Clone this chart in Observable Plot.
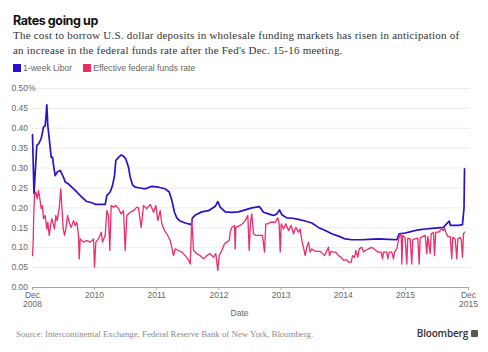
<!DOCTYPE html>
<html>
<head>
<meta charset="utf-8">
<script src="https://cdn.jsdelivr.net/npm/d3@7"></script>
<script src="https://cdn.jsdelivr.net/npm/@observablehq/plot@0.6"></script>
<style>
  body { margin: 0; background: #fff; }
  #wrap { position: relative; width: 488px; height: 352px; overflow: hidden; background: #fff; }
  #title { position: absolute; left: 13px; top: 13px; font: 700 12.5px/15px Inter, "Liberation Sans", sans-serif; letter-spacing: -0.4px; color: #111; white-space: nowrap; }
  #subtitle { position: absolute; left: 13px; top: 28px; width: 475px; font: 11px/15px "Liberation Serif", serif; letter-spacing: 0.22px; color: #333; white-space: nowrap; }
  #legend { position: absolute; left: 13px; top: 63px; font: 8.6px/10px "Liberation Sans", sans-serif; color: #666; white-space: nowrap; }
  #legend .item { display: inline-block; margin-right: 11px; }
  #legend .sw { display: inline-block; width: 8px; height: 8px; vertical-align: -1px; margin-right: 2px; }
  #chart { position: absolute; left: 0; top: 78px; }
  #source { position: absolute; left: 16px; top: 329px; font: 8.8px/10px "Liberation Serif", serif; color: #8a8a8a; white-space: nowrap; }
  #brand { position: absolute; right: 10px; top: 327px; font: 600 10px/12px "Open Sans", "Liberation Sans", sans-serif; color: #333; white-space: nowrap; letter-spacing: -0.2px; }
  #brand .ico { display: inline-block; width: 7px; height: 7px; background: #555; border-radius: 1px; margin-left: 3px; vertical-align: 0px; }
</style>
</head>
<body>
<div id="wrap">
  <div id="title">Rates going up</div>
  <div id="subtitle">The cost to borrow U.S. dollar deposits in wholesale funding markets has risen in anticipation of<br>an increase in the federal funds rate after the Fed's Dec. 15-16 meeting.</div>
  <div id="legend"></div>
  <div id="chart"></div>
  <div id="source">Source: Intercontinental Exchange, Federal Reserve Bank of New York, Bloomberg.</div>
  <div id="brand">Bloomberg<span class="ico"></span></div>
</div>
<script>
// ---- Data (x = decimal year, y = percent) ----
const seriesNames = ["1-week Libor", "Effective federal funds rate"];
const seriesColors = ["#2a0fce", "#ee2b6b"];

const liborYear = [
  2009.003, 2009.027, 2009.047, 2009.072, 2009.100, 2009.143, 2009.180, 2009.207, 2009.220, 2009.233,
  2009.249, 2009.272, 2009.304, 2009.325, 2009.346, 2009.368, 2009.400, 2009.449, 2009.474, 2009.502,
  2009.529, 2009.582, 2009.635, 2009.715, 2009.796, 2009.876, 2009.957, 2010.011, 2010.172, 2010.198,
  2010.252, 2010.289, 2010.322, 2010.342, 2010.386, 2010.429, 2010.466, 2010.503, 2010.547, 2010.574,
  2010.611, 2010.654, 2010.735, 2010.815, 2010.921, 2011.029, 2011.137, 2011.201, 2011.243, 2011.286,
  2011.323, 2011.378, 2011.458, 2011.555, 2011.576, 2011.629, 2011.725, 2011.833, 2011.941, 2011.982,
  2012.021, 2012.101, 2012.207, 2012.315, 2012.423, 2012.529, 2012.653, 2012.717, 2012.797, 2012.878,
  2012.931, 2012.974, 2013.011, 2013.092, 2013.183, 2013.280, 2013.387, 2013.494, 2013.601, 2013.709,
  2013.815, 2013.923, 2014.031, 2014.137, 2014.297, 2014.405, 2014.566, 2014.727, 2014.860, 2014.899,
  2014.995, 2015.101, 2015.209, 2015.317, 2015.477, 2015.611, 2015.703, 2015.723, 2015.852, 2015.916,
  2015.941, 2015.949
];
const liborRate = [
  0.384, 0.236, 0.29, 0.357, 0.361, 0.374, 0.403, 0.407, 0.43, 0.459,
  0.407, 0.374, 0.327, 0.327, 0.302, 0.281, 0.29, 0.294, 0.286, 0.277,
  0.265, 0.26, 0.252, 0.24, 0.227, 0.216, 0.213, 0.209, 0.209, 0.231,
  0.24, 0.256, 0.281, 0.319, 0.327, 0.333, 0.33, 0.323, 0.302, 0.277,
  0.258, 0.252, 0.25, 0.248, 0.254, 0.252, 0.248, 0.24, 0.219, 0.189,
  0.175, 0.167, 0.162, 0.158, 0.175, 0.183, 0.19, 0.193, 0.204, 0.216,
  0.202, 0.19, 0.189, 0.19, 0.195, 0.2, 0.203, 0.189, 0.185, 0.181,
  0.185, 0.195, 0.183, 0.175, 0.174, 0.171, 0.167, 0.162, 0.151, 0.143,
  0.135, 0.129, 0.122, 0.12, 0.12, 0.121, 0.122, 0.121, 0.12, 0.135,
  0.137, 0.141, 0.145, 0.147, 0.149, 0.151, 0.167, 0.156, 0.156, 0.158,
  0.2, 0.298
];

const fedYear = [
  2009.003, 2009.014, 2009.024, 2009.035, 2009.056, 2009.079, 2009.100, 2009.121, 2009.143, 2009.164,
  2009.180, 2009.207, 2009.233, 2009.249, 2009.272, 2009.293, 2009.314, 2009.336, 2009.357, 2009.378,
  2009.400, 2009.432, 2009.458, 2009.474, 2009.497, 2009.518, 2009.539, 2009.566, 2009.593, 2009.625,
  2009.662, 2009.690, 2009.715, 2009.743, 2009.754, 2009.770, 2009.823, 2009.876, 2009.931, 2009.984,
  2010.000, 2010.021, 2010.064, 2010.108, 2010.129, 2010.172, 2010.198, 2010.225, 2010.246, 2010.268,
  2010.305, 2010.342, 2010.386, 2010.429, 2010.466, 2010.494, 2010.519, 2010.574, 2010.627, 2010.680,
  2010.707, 2010.751, 2010.788, 2010.841, 2010.896, 2010.949, 2010.986, 2011.018, 2011.056, 2011.082,
  2011.125, 2011.162, 2011.217, 2011.243, 2011.270, 2011.297, 2011.350, 2011.404, 2011.458, 2011.500,
  2011.539, 2011.564, 2011.592, 2011.645, 2011.699, 2011.752, 2011.805, 2011.860, 2011.913, 2011.950,
  2011.982, 2012.005, 2012.047, 2012.090, 2012.127, 2012.166, 2012.182, 2012.207, 2012.251, 2012.262,
  2012.272, 2012.342, 2012.379, 2012.423, 2012.465, 2012.487, 2012.508, 2012.529, 2012.556, 2012.588,
  2012.701, 2012.733, 2012.754, 2012.786, 2012.830, 2012.905, 2012.947, 2012.969, 2012.986, 2013.002,
  2013.039, 2013.076, 2013.119, 2013.162, 2013.199, 2013.236, 2013.280, 2013.307, 2013.333, 2013.360,
  2013.387, 2013.413, 2013.440, 2013.468, 2013.494, 2013.521, 2013.574, 2013.629, 2013.666, 2013.698,
  2013.735, 2013.762, 2013.778, 2013.805, 2013.842, 2013.879, 2013.923, 2013.966, 2014.003, 2014.056,
  2014.084, 2014.127, 2014.148, 2014.180, 2014.201, 2014.233, 2014.256, 2014.297, 2014.325, 2014.352,
  2014.405, 2014.458, 2014.513, 2014.555, 2014.609, 2014.630, 2014.646, 2014.699, 2014.715, 2014.738,
  2014.780, 2014.807, 2014.823, 2014.860, 2014.876, 2014.899, 2014.931, 2014.941, 2014.957, 2014.995,
  2015.021, 2015.037, 2015.076, 2015.101, 2015.117, 2015.156, 2015.198, 2015.220, 2015.236, 2015.273,
  2015.317, 2015.342, 2015.359, 2015.397, 2015.413, 2015.450, 2015.466, 2015.487, 2015.531, 2015.558,
  2015.584, 2015.611, 2015.627, 2015.648, 2015.680, 2015.719, 2015.744, 2015.760, 2015.799, 2015.825,
  2015.841, 2015.879, 2015.896, 2015.916, 2015.933, 2015.949
];
const fedRate = [
  0.08, 0.114, 0.19, 0.231, 0.24, 0.223, 0.244, 0.223, 0.198, 0.206,
  0.173, 0.181, 0.147, 0.164, 0.131, 0.156, 0.173, 0.16, 0.147, 0.181,
  0.168, 0.198, 0.248, 0.206, 0.147, 0.131, 0.147, 0.181, 0.164, 0.151,
  0.168, 0.156, 0.164, 0.131, 0.072, 0.122, 0.114, 0.118, 0.114, 0.122,
  0.051, 0.114, 0.122, 0.139, 0.114, 0.131, 0.193, 0.181, 0.093, 0.206,
  0.202, 0.206, 0.198, 0.185, 0.193, 0.093, 0.181, 0.189, 0.193, 0.202,
  0.2, 0.151, 0.206, 0.198, 0.209, 0.189, 0.206, 0.168, 0.193, 0.16,
  0.143, 0.135, 0.118, 0.101, 0.08, 0.097, 0.093, 0.089, 0.08, 0.072,
  0.059, 0.173, 0.093, 0.085, 0.08, 0.072, 0.08, 0.085, 0.076, 0.085,
  0.043, 0.08, 0.093, 0.11, 0.114, 0.118, 0.139, 0.151, 0.156, 0.097,
  0.151, 0.156, 0.16, 0.168, 0.181, 0.093, 0.164, 0.185, 0.135, 0.131,
  0.131, 0.089, 0.16, 0.16, 0.164, 0.164, 0.175, 0.16, 0.089, 0.16,
  0.147, 0.16, 0.143, 0.156, 0.135, 0.151, 0.139, 0.147, 0.118, 0.101,
  0.08, 0.101, 0.114, 0.089, 0.097, 0.093, 0.091, 0.091, 0.085, 0.08,
  0.093, 0.101, 0.08, 0.091, 0.089, 0.089, 0.08, 0.076, 0.068, 0.07,
  0.064, 0.064, 0.08, 0.076, 0.093, 0.076, 0.097, 0.101, 0.089, 0.093,
  0.097, 0.101, 0.095, 0.089, 0.089, 0.072, 0.089, 0.089, 0.072, 0.089,
  0.089, 0.072, 0.089, 0.097, 0.11, 0.126, 0.135, 0.059, 0.131, 0.124,
  0.059, 0.124, 0.122, 0.059, 0.12, 0.122, 0.124, 0.059, 0.124, 0.128,
  0.131, 0.085, 0.128, 0.085, 0.135, 0.139, 0.08, 0.139, 0.139, 0.143,
  0.147, 0.143, 0.15, 0.139, 0.128, 0.128, 0.072, 0.126, 0.122, 0.072,
  0.122, 0.126, 0.12, 0.076, 0.135, 0.139
];

const yTicks = [0, 0.05, 0.10, 0.15, 0.20, 0.25, 0.30, 0.35, 0.40, 0.45, 0.50];
const yTickLabels = ["0.00", "0.05", "0.10", "0.15", "0.20", "0.25", "0.30", "0.35", "0.40", "0.45", "0.50%"];
const xTicks = [2009.003, 2010, 2011, 2012, 2013, 2014, 2015, 2016.013];
const xTickLabels = ["Dec\n2008", "2010", "2011", "2012", "2013", "2014", "2015", "Dec\n2015"];
const xDomain = [2009.003, 2016.013];
const xAxisLabel = "Date";

// ---- Build tables ----
const libor = liborYear.map((x, i) => ({x, y: liborRate[i]}));
const fed = fedYear.map((x, i) => ({x, y: fedRate[i]}));

// legend
const legend = document.getElementById("legend");
seriesNames.forEach((n, i) => {
  const s = document.createElement("span");
  s.className = "item";
  s.innerHTML = `<span class="sw" style="background:${seriesColors[i]}"></span>${n}`;
  legend.appendChild(s);
});

const font = "Liberation Sans, sans-serif";
const chart = Plot.plot({
  width: 488,
  height: 244,
  marginLeft: 32,
  marginRight: 20,
  marginTop: 10,
  marginBottom: 35,
  style: {fontFamily: font, fontSize: "8.5px", background: "#fff"},
  x: {type: "linear", domain: xDomain, axis: null},
  y: {domain: [0, 0.5], axis: null},
  marks: [
    Plot.ruleY(yTicks.filter(d => d > 0), {stroke: "#ececec", strokeWidth: 1, insetRight: -2}),
    Plot.text(yTicks, {y: d => d, text: (d, i) => yTickLabels[i], frameAnchor: "left", dx: -21, textAnchor: "start", fill: "#666", fontSize: 8.5}),
    Plot.line(libor, {x: "x", y: "y", stroke: seriesColors[0], strokeWidth: 1.7, strokeLinejoin: "round"}),
    Plot.line(fed, {x: "x", y: "y", stroke: seriesColors[1], strokeWidth: 1.3, strokeLinejoin: "round"}),
    Plot.ruleY([0], {stroke: "#a8a8a8", strokeWidth: 1}),
    Plot.ruleX(xTicks, {x: d => d, y: 0, insetBottom: -3, stroke: "#a8a8a8"}),
    Plot.text(xTicks, {x: d => d, text: (d, i) => xTickLabels[i], frameAnchor: "bottom", dy: 4, lineAnchor: "top", lineHeight: 1.05, fill: "#666", fontSize: 8.5}),
    Plot.text([xAxisLabel], {frameAnchor: "bottom", dx: -11, dy: 28, fill: "#666", fontSize: 8.5})
  ]
});
document.getElementById("chart").appendChild(chart);
</script>
</body>
</html>
